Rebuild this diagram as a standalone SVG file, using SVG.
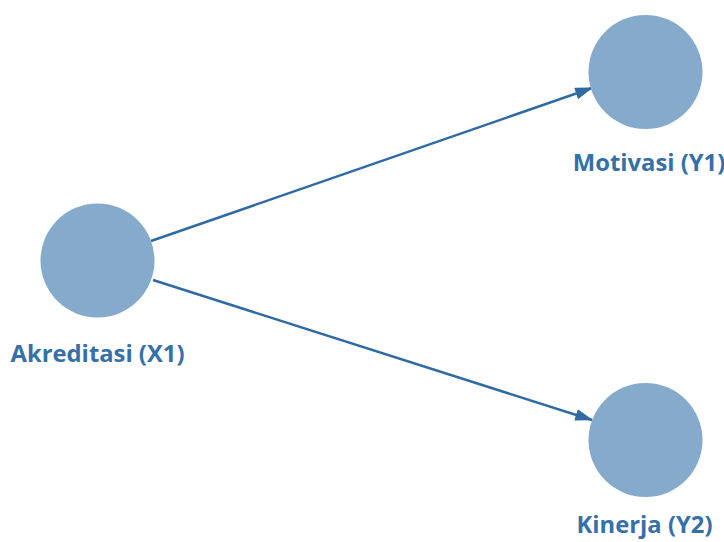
<svg xmlns="http://www.w3.org/2000/svg" width="724" height="542" viewBox="0 0 724 542">
<style>
.node{fill:#85aacb}
.lbl{font-family:"Open Sans","Noto Sans",sans-serif;font-weight:bold;font-size:23.8px;fill:#3570a8;text-anchor:middle}
.edge{stroke:#2f6aa3;stroke-width:2.5;fill:none}
</style>
<defs>
<marker id="arr" viewBox="0 0 15 10" refX="14" refY="5" markerWidth="7.2" markerHeight="4.8" markerUnits="strokeWidth" orient="auto">
<path d="M0,0 L15,5 L0,10 Z" fill="#2f6aa3"/>
</marker>
</defs>
<g id="connectors">
<line class="edge" x1="151" y1="241" x2="592" y2="88" marker-end="url(#arr)"/>
<line class="edge" x1="153" y1="280" x2="592" y2="420" marker-end="url(#arr)"/>
</g>
<g id="X1">
<circle class="node" cx="97.5" cy="260.5" r="57"/>
<text class="lbl" x="97.5" y="362">Akreditasi (X1)</text>
</g>
<g id="Y1">
<circle class="node" cx="645.5" cy="72" r="57"/>
<text class="lbl" x="649" y="171">Motivasi (Y1)</text>
</g>
<g id="Y2">
<circle class="node" cx="645.5" cy="440" r="57"/>
<text class="lbl" x="644.5" y="533">Kinerja (Y2)</text>
</g>
</svg>
